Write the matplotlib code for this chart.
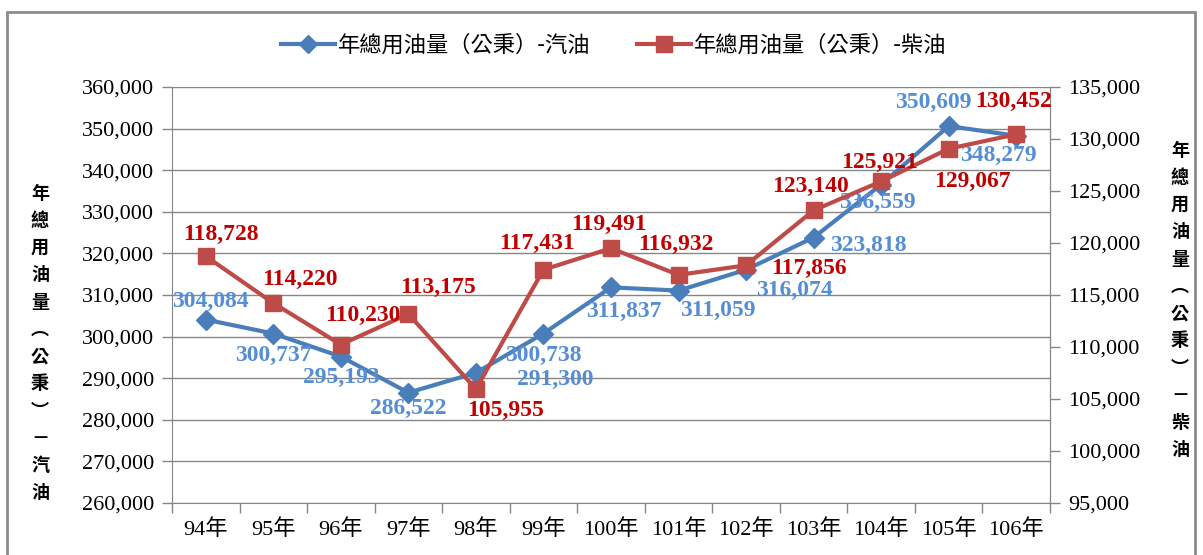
import matplotlib.pyplot as plt
from matplotlib.patches import Rectangle
from matplotlib.ticker import FuncFormatter, MultipleLocator, FixedLocator
from matplotlib.lines import Line2D

plt.rcParams['font.family'] = ['Liberation Serif', 'Noto Sans CJK TC', 'DejaVu Sans']

years = ["94年", "95年", "96年", "97年", "98年", "99年", "100年", "101年",
         "102年", "103年", "104年", "105年", "106年"]
gasoline = [304084, 300737, 295193, 286522, 291300, 300738, 311837, 311059,
            316074, 323818, 336559, 350609, 348279]
diesel = [118728, 114220, 110230, 113175, 105955, 117431, 119491, 116932,
          117856, 123140, 125921, 129067, 130452]
name_gas = "年總用油量（公秉）-汽油"
name_diesel = "年總用油量（公秉）-柴油"

# label offsets in pixels (dx, dy; dy positive = down)
off_gas = [(5, -18), (0, 22), (0, 21), (0, 16), (79, 7), (0, 22), (13, 24),
           (39, 20), (48, 21), (55, 8), (-4, 18), (-15, -24), (-18, 20)]
off_diesel = [(15, -22), (27, -24), (22, -29), (30, -27), (30, 21), (-6, -26),
              (-2, -24), (-3, -30), (63, 3), (-3, -24), (-2, -19), (24, 33),
              (-3, -33)]

blue = "#4A7EBB"
red = "#BE4B48"
blue_txt = "#558ED5"
red_txt = "#C00000"
grey = "#868686"

fig = plt.figure(figsize=(12.03, 5.55), dpi=100)
fig.patches.append(Rectangle((7 / 1203, -0.05), 1188 / 1203, 1.05 - 12 / 555,
                             transform=fig.transFigure, fill=False,
                             edgecolor="#8C8C8C", lw=2))
ax = fig.add_axes([172 / 1203, 1 - 503 / 555, (1050 - 172) / 1203, (503 - 87) / 555])
ax2 = ax.twinx()

x = list(range(len(years)))
ax.plot(x, gasoline, color=blue, lw=3, marker="D", ms=10, zorder=3)
ax2.plot(x, diesel, color=red, lw=3, marker="s", ms=12, zorder=3)

for i, v in enumerate(gasoline):
    ax.annotate(f"{v:,}", (i, v), xytext=(off_gas[i][0], -off_gas[i][1]),
                textcoords="offset pixels", ha="center", va="center",
                fontsize=17, fontweight="bold", color=blue_txt, zorder=5)
for i, v in enumerate(diesel):
    ax2.annotate(f"{v:,}", (i, v), xytext=(off_diesel[i][0], -off_diesel[i][1]),
                 textcoords="offset pixels", ha="center", va="center",
                 fontsize=17, fontweight="bold", color=red_txt, zorder=5)

ax.set_xlim(-0.5, len(years) - 0.5)
ax.set_ylim(260000, 360000)
ax2.set_ylim(95000, 135000)
ax.yaxis.set_major_locator(MultipleLocator(10000))
ax2.yaxis.set_major_locator(MultipleLocator(5000))
fmt = FuncFormatter(lambda v, p: f"{int(v):,}")
ax.yaxis.set_major_formatter(fmt)
ax2.yaxis.set_major_formatter(fmt)
ax.set_xticks(x)
ax.set_xticklabels(years)
ax.xaxis.set_minor_locator(FixedLocator([i - 0.5 for i in range(len(years) + 1)]))
ax.tick_params(axis="x", which="major", length=0, pad=12, labelsize=16)
ax.tick_params(axis="x", which="minor", length=7, color=grey, width=1)
ax.tick_params(axis="y", length=7, color=grey, width=1, labelsize=16, pad=6)
ax2.tick_params(axis="y", length=7, color=grey, width=1, labelsize=16, pad=6)

ax.grid(axis="y", color=grey, lw=1)
ax.set_axisbelow(True)
for a in (ax, ax2):
    a.spines["top"].set_visible(False)
    for s in ("left", "right", "bottom"):
        a.spines[s].set_color(grey)
ax2.spines["left"].set_visible(False)
ax2.spines["bottom"].set_visible(False)

vert_gas = "\n".join("年總用油量︵公秉︶－汽油")
vert_diesel = "\n".join("年總用油量︵公秉︶－柴油")
fig.text(40 / 1203, 1 - 343 / 555, vert_gas, ha="center", va="center",
         fontsize=13, fontweight="bold", linespacing=1.55,
         family=['Noto Sans CJK TC'])
fig.text(1180 / 1203, 1 - 300 / 555, vert_diesel, ha="center", va="center",
         fontsize=13, fontweight="bold", linespacing=1.55,
         family=['Noto Sans CJK TC'])

handles = [Line2D([], [], color=blue, lw=3, marker="D", ms=9),
           Line2D([], [], color=red, lw=3, marker="s", ms=11)]
fig.legend(handles, [name_gas, name_diesel], loc="center",
           bbox_to_anchor=(614 / 1203, 1 - 45 / 555), ncol=2, frameon=False,
           handlelength=2.4, handletextpad=0.15, columnspacing=2.1,
           prop={'family': ['Noto Sans CJK TC'], 'size': 16})

fig.savefig("out.png", dpi=100)
